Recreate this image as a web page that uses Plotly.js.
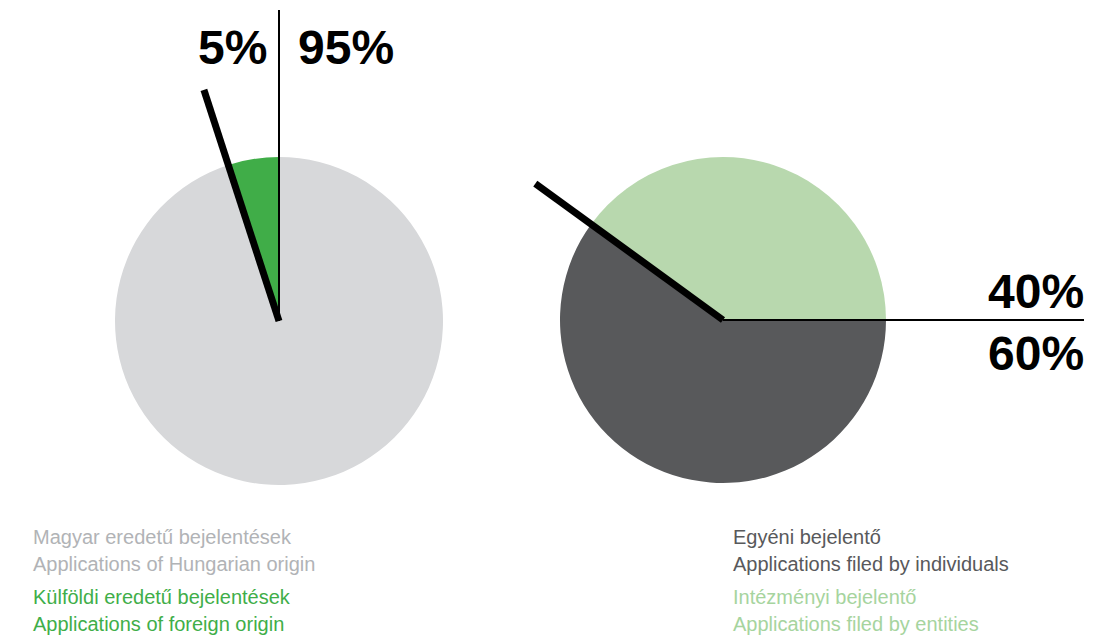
<!DOCTYPE html>
<html>
<head>
<meta charset="utf-8">
<script src="https://cdn.plot.ly/plotly-3.0.1.min.js"></script>
<style>html,body{margin:0;padding:0;background:#fff;}#chart{width:1120px;height:640px;}</style>
</head>
<body>
<div id="chart"></div>
<script>
// ---- data ----
const originLabels = ["Magyar eredetű bejelentések", "Külföldi eredetű bejelentések"];
const originLabelsEn = ["Applications of Hungarian origin", "Applications of foreign origin"];
const originValues = [95, 5];
const applicantLabels = ["Egyéni bejelentő", "Intézményi bejelentő"];
const applicantLabelsEn = ["Applications filed by individuals", "Applications filed by entities"];
const applicantValues = [60, 40];

// ---- styles ----
const originColors = ["#d7d8da", "#40ad48"];
const originText = ["#b1b3b6", "#3fae49"];
const applicantColors = ["#58595b", "#b8d8ae"];
const applicantText = ["#58595b", "#a6d49e"];

const W = 1120, H = 640;
const px = x => x / W, py = y => 1 - y / H;

// pie geometry (pixels)
const L = {cx: 279, cy: 321, r: 164};
const R = {cx: 723, cy: 320, r: 163};
const dom = g => ({x: [px(g.cx - g.r), px(g.cx + g.r)], y: [py(g.cy + g.r), py(g.cy - g.r)]});

const sum = a => a.reduce((s, v) => s + v, 0);
const pct = (a, i) => Math.round(100 * a[i] / sum(a)) + "%";

const traces = [
  {type: "pie", values: originValues, labels: originLabels, marker: {colors: originColors, line: {width: 0}},
   sort: false, direction: "clockwise", rotation: 0, textinfo: "none", hoverinfo: "none", domain: dom(L)},
  {type: "pie", values: applicantValues, labels: applicantLabels, marker: {colors: applicantColors, line: {width: 0}},
   sort: false, direction: "clockwise", rotation: 90, textinfo: "none", hoverinfo: "none", domain: dom(R)}
];

// boundary angles (compass degrees, clockwise from 12 o'clock)
const thL = 0 + 360 * originValues[0] / sum(originValues);
const thR = 90 + 360 * applicantValues[0] / sum(applicantValues);
const ray = (g, th, len) => {
  const a = th * Math.PI / 180;
  return {x0: px(g.cx), y0: py(g.cy), x1: px(g.cx + len * Math.sin(a)), y1: py(g.cy - len * Math.cos(a))};
};
const shp = (o, w) => Object.assign({type: "line", xref: "paper", yref: "paper", line: {color: "#000", width: w}}, o);

const shapes = [
  shp(ray(L, 0, L.cy - 10), 2),
  shp(ray(L, thL, 243), 7),
  shp(ray(R, 90, 361), 2),
  shp(ray(R, thR, 232), 7)
];

const bigFont = {family: "Liberation Sans, Arial, sans-serif", size: 48, color: "#000", weight: "bold"};
const smallFont = c => ({family: "Liberation Sans, Arial, sans-serif", size: 20, color: c});
const ann = (text, x, y, xa, font) => ({text, x: px(x), y: py(y), xref: "paper", yref: "paper",
  xanchor: xa, yanchor: "middle", showarrow: false, font});

const annotations = [
  ann(pct(originValues, 1), 269, 47, "right", bigFont),
  ann(pct(originValues, 0), 296, 47, "left", bigFont),
  ann(pct(applicantValues, 1), 1086, 291, "right", bigFont),
  ann(pct(applicantValues, 0), 1086, 353, "right", bigFont),
  ann(originLabels[0], 31, 537, "left", smallFont(originText[0])),
  ann(originLabelsEn[0], 31, 564, "left", smallFont(originText[0])),
  ann(originLabels[1], 31, 597, "left", smallFont(originText[1])),
  ann(originLabelsEn[1], 31, 624, "left", smallFont(originText[1])),
  ann(applicantLabels[0], 731, 537, "left", smallFont(applicantText[0])),
  ann(applicantLabelsEn[0], 731, 564, "left", smallFont(applicantText[0])),
  ann(applicantLabels[1], 731, 597, "left", smallFont(applicantText[1])),
  ann(applicantLabelsEn[1], 731, 624, "left", smallFont(applicantText[1]))
];

Plotly.newPlot("chart", traces, {
  width: W, height: H, margin: {l: 0, r: 0, t: 0, b: 0},
  paper_bgcolor: "#fff", plot_bgcolor: "#fff", showlegend: false,
  shapes, annotations
}, {staticPlot: true, displayModeBar: false});
</script>
</body>
</html>
